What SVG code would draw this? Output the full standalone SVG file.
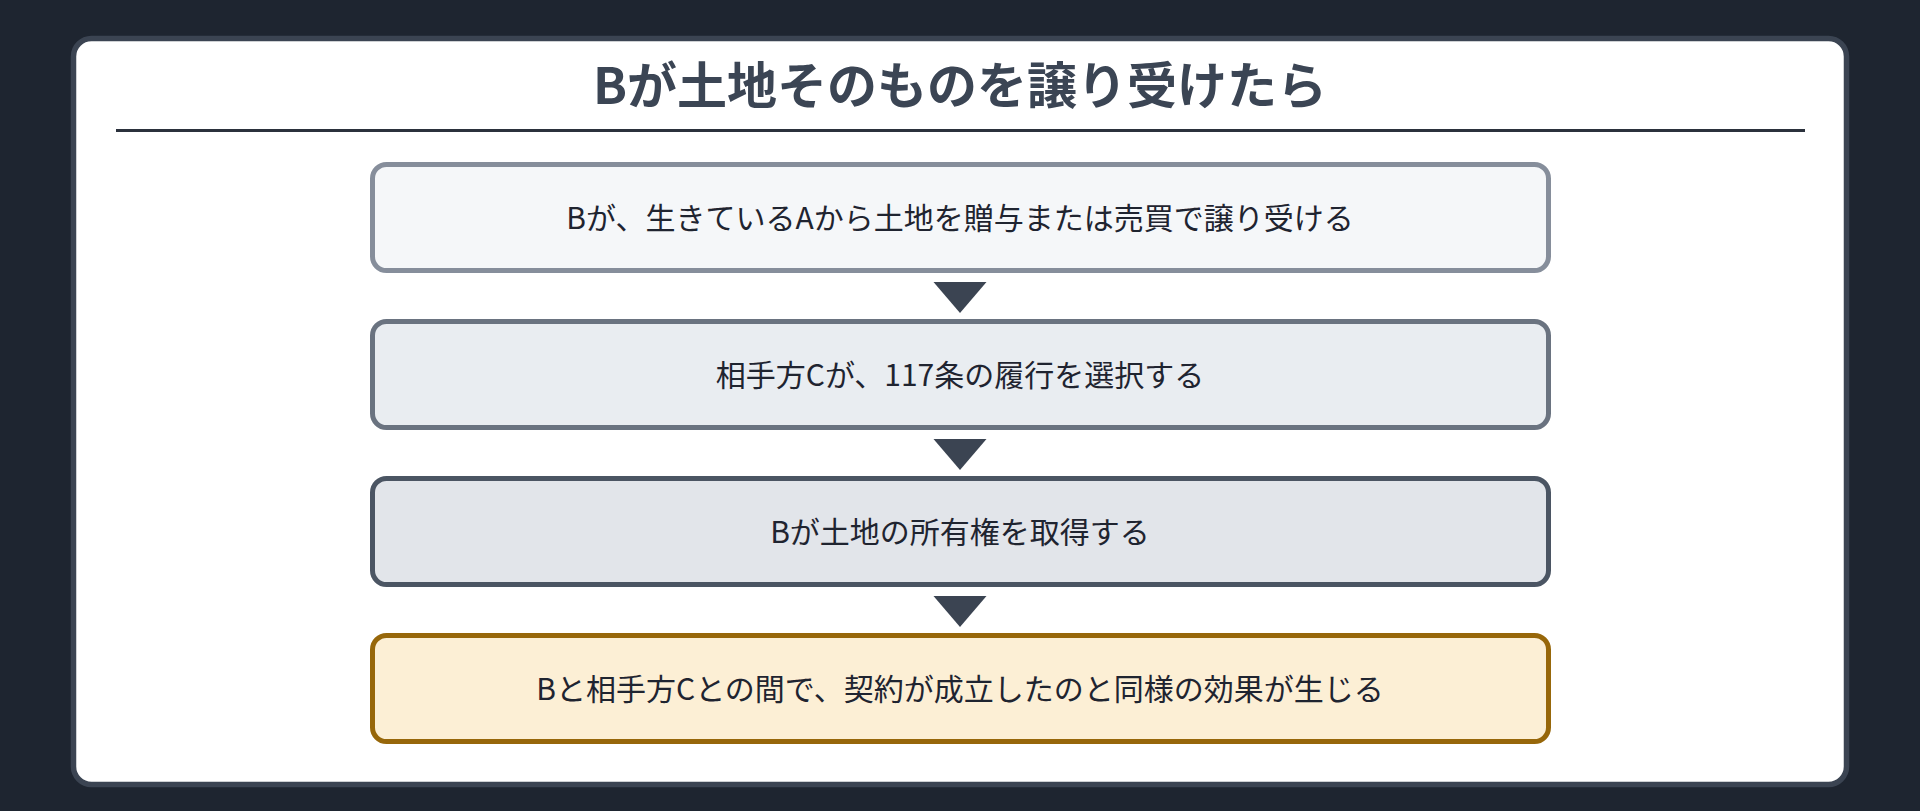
<svg xmlns="http://www.w3.org/2000/svg" width="1920" height="811" viewBox="0 0 1920 811">
  <style>
    .title { font-family: "Noto Sans CJK JP", "Noto Sans", sans-serif; font-size: 50px; font-weight: 700; fill: #3b4554; text-anchor: middle; }
    .label { font-family: "Noto Sans CJK JP", "Noto Sans", sans-serif; font-size: 30px; font-weight: 400; fill: #1f2430; text-anchor: middle; }
    .box { stroke-width: 5; }
    .arrow { fill: #3b4452; }
  </style>
  <rect x="0" y="0" width="1920" height="811" fill="#1e2530"/>
  <rect id="card" x="73.5" y="38.5" width="1773" height="746" rx="18" ry="18" fill="#ffffff" stroke="#3b4452" stroke-width="5.5"/>
  <g id="title">
    <text class="title" x="960" y="104">Bが土地そのものを譲り受けたら</text>
    <line x1="116" y1="130.5" x2="1805" y2="130.5" stroke="#2b313c" stroke-width="2.8"/>
  </g>
  <g id="connectors">
    <polygon class="arrow" points="933.5,282 986.5,282 960,313"/>
    <polygon class="arrow" points="933.5,439 986.5,439 960,470"/>
    <polygon class="arrow" points="933.5,596 986.5,596 960,627"/>
  </g>
  <g id="node1">
    <rect class="box" x="372.5" y="164.5" width="1176" height="106" rx="14" ry="14" fill="#f5f7f9" stroke="#868e9b"/>
    <text class="label" x="960" y="229">Bが、生きているAから土地を贈与または売買で譲り受ける</text>
  </g>
  <g id="node2">
    <rect class="box" x="372.5" y="321.5" width="1176" height="106" rx="14" ry="14" fill="#e9edf1" stroke="#6a7380"/>
    <text class="label" x="960" y="386">相手方Cが、117条の履行を選択する</text>
  </g>
  <g id="node3">
    <rect class="box" x="372.5" y="478.5" width="1176" height="106" rx="14" ry="14" fill="#e2e5ea" stroke="#4b5563"/>
    <text class="label" x="960" y="543">Bが土地の所有権を取得する</text>
  </g>
  <g id="node4">
    <rect class="box" x="372.5" y="635.5" width="1176" height="106" rx="14" ry="14" fill="#fcefd5" stroke="#97670a"/>
    <text class="label" x="960" y="700">Bと相手方Cとの間で、契約が成立したのと同様の効果が生じる</text>
  </g>
</svg>
